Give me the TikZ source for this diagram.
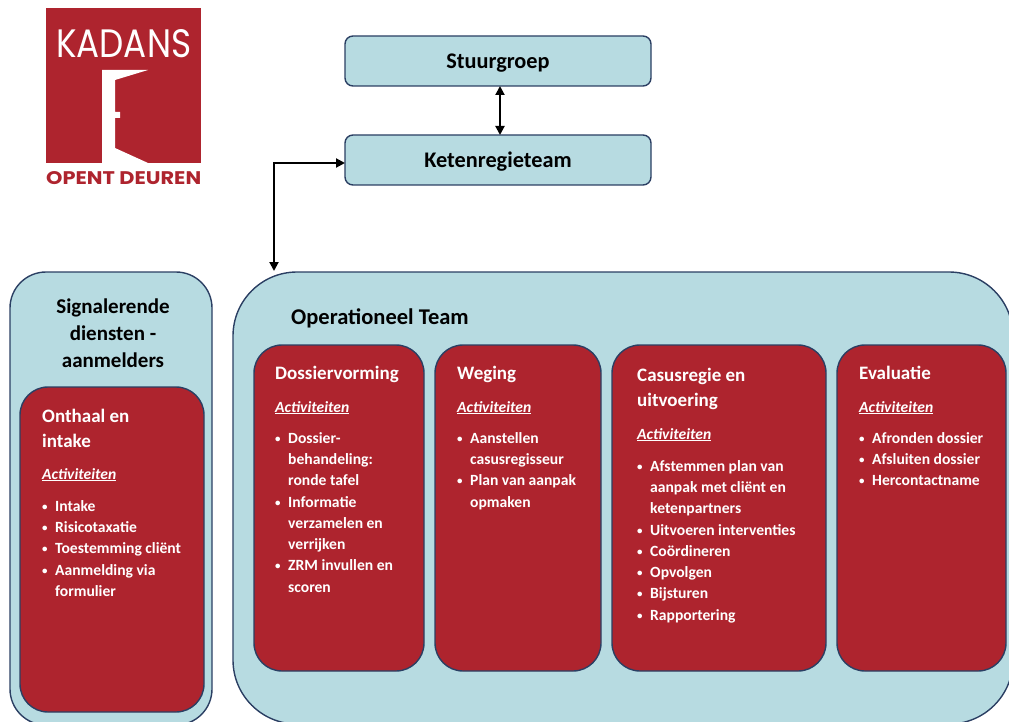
\documentclass[tikz,border=0pt]{standalone}
\usepackage{fontspec}
\usetikzlibrary{arrows.meta}
\setmainfont{Carlito}
\newfontfamily\logofont{Poppins}
\definecolor{lightpanel}{HTML}{B7DBE1}
\definecolor{darkred}{HTML}{AE242E}
\definecolor{navy}{HTML}{2B3F63}
\newcommand{\bul}{\makebox[13pt][l]{\raisebox{1pt}{\scalebox{0.7}{\textbullet}}}}
\newcommand{\ind}{\hspace*{13pt}}

\begin{document}
\begin{tikzpicture}[
    x=1pt, y=-1pt,
    >={Triangle[length=9pt, width=9pt]},
    panel/.style={draw=navy, line width=1.4pt, fill=lightpanel, anchor=north west, inner sep=0pt, outer sep=0pt},
    stage/.style={panel, fill=darkred, rounded corners=28pt},
    topbox/.style={panel, rounded corners=8pt, minimum width=306pt, minimum height=50pt, text height=19pt, text depth=4pt, font=\fontsize{22.3}{26}\selectfont\bfseries},
    heading/.style={anchor=north west, inner sep=0pt, align=left, text=white, font=\fontsize{19}{25}\selectfont\bfseries},
    activity/.style={anchor=north west, inner sep=0pt, text=white, font=\fontsize{15.6}{21}\selectfont\bfseries\itshape},
    items/.style={anchor=north west, inner sep=0pt, align=left, text=white, font=\fontsize{15.6}{21.3}\selectfont\bfseries},
    title/.style={inner sep=0pt, align=center, font=\fontsize{21}{27}\selectfont\bfseries},
    link/.style={<->, line width=2pt}
]
\useasboundingbox (0,0) rectangle (1009,722);

% Logo
\node[fill=darkred, minimum size=155pt, inner sep=0pt, outer sep=0pt, anchor=north west] (logo) at (46,8) {};
\fill[white] (102,70) -- (148,70) -- (115,80) -- (115,112) -- (120,112) -- (120,118)
    -- (115,118) -- (115,148) -- (148,163) -- (102,163) -- cycle;
\node[anchor=base west, inner sep=0pt, text=white] (kadans) at (56,58) {\resizebox{135pt}{28pt}{\logofont KADANS}};
\node[anchor=base west, inner sep=0pt, text=darkred] (motto) at (46,185) {\resizebox{155pt}{13pt}{\logofont\bfseries OPENT DEUREN}};

% Top boxes
\node[topbox] (stuur) at (345,36) {Stuurgroep};
\node[topbox] (keten) at (345,135) {Ketenregieteam};

% Large panels
\node[panel, rounded corners=36pt, minimum width=202pt, minimum height=453pt] (signal) at (10,272) {};
\node[panel, rounded corners=64pt, minimum width=780pt, minimum height=452pt] (team) at (233,272) {};
\node[title] (signaltitle) at (113,333) {Signalerende\\diensten -\\aanmelders};
\node[title, font=\fontsize{22.5}{27}\selectfont\bfseries, anchor=west] (teamtitle) at (291,318) {Operationeel Team};

% Red boxes
\node[stage, minimum width=184pt, minimum height=325pt] (onthaal) at (20,387) {};
\foreach \n/\x/\w in {dossier/254/170, weging/435/166, casus/612/214, evaluatie/837/169} {
    \node[stage, minimum width=\w pt, minimum height=326pt] (\n) at (\x,345) {};
}

% Headings
\node[heading] (h1) at (42,409) {Onthaal en\\intake};
\node[heading] (h2) at (275,366) {Dossiervorming};
\node[heading] (h3) at (457,366) {Weging};
\node[heading] (h4) at (637,368) {Casusregie en\\uitvoering};
\node[heading] (h5) at (859,366) {Evaluatie};

% Activiteiten
\foreach \n/\x/\y in {a1/42/468, a2/275/401, a3/457/401, a4/637/428, a5/859/401} {
    \node[activity] (\n) at (\x,\y) {\underline{Activiteiten}};
}

% Lists
\node[items] (l1) at (42,500) {\bul Intake\\\bul Risicotaxatie\\\bul Toestemming cliënt\\\bul Aanmelding via\\\ind formulier};
\node[items] (l2) at (275,432) {\bul Dossier-\\\ind behandeling:\\\ind ronde tafel\\\bul Informatie\\\ind verzamelen en\\\ind verrijken\\\bul ZRM invullen en\\\ind scoren};
\node[items] (l3) at (457,432) {\bul Aanstellen\\\ind casusregisseur\\\bul Plan van aanpak\\\ind opmaken};
\node[items] (l4) at (637,460) {\bul Afstemmen plan van\\\ind aanpak met cliënt en\\\ind ketenpartners\\\bul Uitvoeren interventies\\\bul Coördineren\\\bul Opvolgen\\\bul Bijsturen\\\bul Rapportering};
\node[items] (l5) at (859,432) {\bul Afronden dossier\\\bul Afsluiten dossier\\\bul Hercontactname};

% Connections
\coordinate (teamtop) at (274,271);
\draw[link] ([xshift=2pt]stuur.south) -- ([xshift=2pt]keten.north);
\draw[link] ([yshift=-3pt]keten.west) -| (teamtop);
\end{tikzpicture}
\end{document}
